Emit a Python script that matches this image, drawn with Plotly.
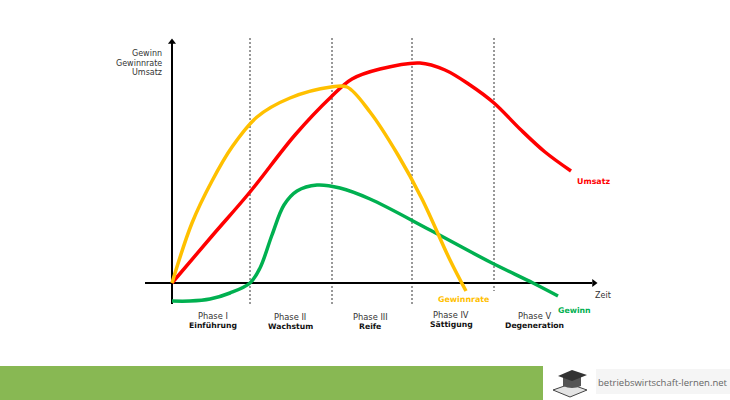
import plotly.graph_objs as go

# values, origin of the chart at (0, 0)
umsatz_x = [0, 40, 78, 123, 159, 180, 208, 248, 273, 298, 322, 348, 373, 399]
umsatz_y = [0, 47, 91, 148, 186, 204, 214, 220, 213, 198, 180, 154, 131, 112]
rate_x = [0, 20, 40, 60, 85, 118, 159, 175, 198, 226, 250, 278, 294]
rate_y = [0, 60, 102, 136, 166, 185, 196, 196, 171, 128, 84, 23, -8]
gewinn_x = [0, 18, 38, 58, 78, 88, 100, 112, 125, 145, 168, 198, 258, 318, 361, 386]
gewinn_y = [-18, -18, -16, -10, 0, 15, 48, 78, 92, 98, 95, 84, 53, 21, 0, -13]

phase_bounds = [78, 160, 240, 322]
phase_names = ['Phase I', 'Phase II', 'Phase III', 'Phase IV', 'Phase V']
phase_titles = ['Einführung', 'Wachstum', 'Reife', 'Sättigung', 'Degeneration']
phase_x = [41, 118, 198, 279, 362]
phase_y = [-33, -34, -34, -32, -33]

X0, Y0 = 172, 283  # pixel position of the origin
FONT = 'DejaVu Sans'
RED, YELLOW, GREEN = '#FF0000', '#FFC000', '#00B050'

fig = go.Figure()

# dashed phase borders
for b in phase_bounds:
    bottom = -8 if b == 322 else -21
    fig.add_trace(go.Scatter(x=[b, b], y=[245, bottom], mode='lines', showlegend=False,
                             line=dict(color='#333333', width=1, dash='2px,2px')))

# axes
fig.add_trace(go.Scatter(x=[0, 0], y=[-21, 240], mode='lines', showlegend=False,
                         line=dict(color='black', width=2)))
fig.add_trace(go.Scatter(x=[-27, 420], y=[0, 0], mode='lines', showlegend=False,
                         line=dict(color='black', width=2)))
fig.add_trace(go.Scatter(x=[0], y=[241], mode='markers', showlegend=False,
                         marker=dict(symbol='triangle-up', size=7, color='black')))
fig.add_trace(go.Scatter(x=[422], y=[0], mode='markers', showlegend=False,
                         marker=dict(symbol='triangle-right', size=7, color='black')))

# curves
for xs, ys, col in [(gewinn_x, gewinn_y, GREEN), (umsatz_x, umsatz_y, RED), (rate_x, rate_y, YELLOW)]:
    fig.add_trace(go.Scatter(x=xs, y=ys, mode='lines', showlegend=False,
                             line=dict(color=col, width=3.5, shape='spline', smoothing=1)))


def label(x, y, text, color='#333333', size=8, anchor='center'):
    fig.add_annotation(x=x, y=y, text=text, showarrow=False, xanchor=anchor, yanchor='middle',
                       font=dict(family=FONT, size=size, color=color))


for x, y, n, t in zip(phase_x, phase_y, phase_names, phase_titles):
    label(x, y, n, size=8.3)
    label(x, y - 9, '<b>' + t + '</b>', color='#111111', size=7.7)

label(-8, 230, 'Gewinn', anchor='right')
label(-8, 220, 'Gewinnrate', anchor='right')
label(-8, 211, 'Umsatz', anchor='right')
label(431, -12, 'Zeit')
label(403, 102, '<b>Umsatz</b>', color=RED, size=7.9, anchor='left')
label(291, -16, '<b>Gewinnrate</b>', color=YELLOW, size=7.9)
label(402, -27, '<b>Gewinn</b>', color=GREEN, size=7.8)

# footer band and logo box
fig.add_shape(type='rect', xref='paper', yref='paper', x0=0, x1=543 / 730, y0=0, y1=34 / 400,
              fillcolor='#88B853', line_width=0, layer='below')
fig.add_shape(type='rect', xref='paper', yref='paper', x0=596 / 730, x1=1, y0=6 / 400, y1=31 / 400,
              fillcolor='#F5F5F5', line_width=0, layer='below')
fig.add_annotation(xref='paper', yref='paper', x=663 / 730, y=18 / 400, text='betriebswirtschaft-lernen.net',
                   showarrow=False, xanchor='center', yanchor='middle',
                   font=dict(family='Open Sans', size=9.5, color='#666666'))

# small book with graduation cap
fig.add_shape(type='path', layer='above', line_width=1, line_color='#444444', fillcolor='#E4E4E4',
              path='M 381 -107 L 398 -101 L 415 -107 L 398 -114 Z')
fig.add_shape(type='path', layer='above', line_width=0, fillcolor='#555555',
              path='M 391 -93 L 391 -103 Q 400 -107 409 -103 L 409 -93 Z')
fig.add_shape(type='path', layer='above', line_width=0, fillcolor='#333333',
              path='M 386 -93 L 400 -87 L 415 -92 L 400 -98 Z')

fig.update_layout(
    width=730,
    height=400,
    margin=dict(l=0, r=0, t=0, b=0),
    plot_bgcolor='white',
    paper_bgcolor='white',
    showlegend=False,
    hovermode=False,
    xaxis=dict(range=[-X0, 730 - X0], visible=False, fixedrange=True),
    yaxis=dict(range=[Y0 - 400, Y0], visible=False, fixedrange=True),
)

fig.write_html("out.html", config=dict(displayModeBar=False),
               post_script="document.body.style.margin='0';document.body.style.overflow='hidden';")
